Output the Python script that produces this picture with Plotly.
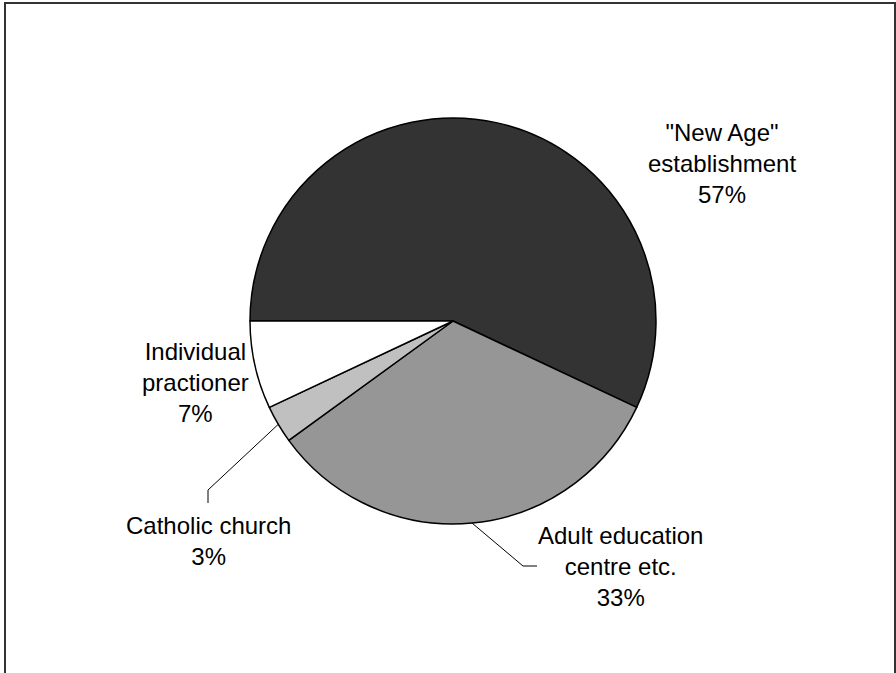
import math
import plotly.graph_objects as go

labels = ['"New Age"<br>establishment', 'Adult education<br>centre etc.', 'Catholic church', 'Individual<br>practioner']
values = [57, 33, 3, 7]
colors = ["#333333", "#969696", "#C0C0C0", "#FFFFFF"]

W, H = 896, 673
cx, cy, r = 453, 321, 203

fig = go.Figure(go.Pie(
    labels=labels, values=values, sort=False, direction="clockwise", rotation=270,
    marker=dict(colors=colors, line=dict(color="#000000", width=1.5)),
    textinfo="none", hoverinfo="label+percent", showlegend=False,
    domain=dict(x=[(cx - r) / W, (cx + r) / W], y=[1 - (cy + r) / H, 1 - (cy - r) / H]),
))

def px(x):
    return x / W

def py(y):
    return 1 - y / H

# label block centres (pixels)
label_pos = [(722, 163), (620, 566), (208, 541), (195, 382)]
total = sum(values)
cum = 0
annotations = []
shapes = []
for i, (lab, v) in enumerate(zip(labels, values)):
    pct = round(100 * v / total)
    lx, ly = label_pos[i]
    annotations.append(dict(x=px(lx), y=py(ly), xref="paper", yref="paper", text=f"{lab}<br>{pct}%",
                            showarrow=False, xanchor="center", yanchor="middle", align="center",
                            font=dict(family="Liberation Sans, Arial", size=24, color="#000000")))
    mid = (cum + v / 2) / total
    cum += v
    ang = math.radians(270 + 360 * mid)
    ex, ey = cx + r * math.sin(ang), cy - r * math.cos(ang)
    if i == 2:
        pts = [(ex, ey), (208, 490), (208, 503)]
    elif i == 1:
        pts = [(ex, ey), (523, 566), (537, 566)]
    else:
        pts = []
    for (x0, y0), (x1, y1) in zip(pts[:-1], pts[1:]):
        shapes.append(dict(type="line", xref="paper", yref="paper", x0=px(x0), y0=py(y0), x1=px(x1), y1=py(y1),
                           line=dict(color="#000000", width=1)))

shapes.append(dict(type="rect", xref="paper", yref="paper", x0=px(5), x1=px(895), y0=py(700), y1=py(3),
                   line=dict(color="#333333", width=2), fillcolor="rgba(0,0,0,0)"))

fig.update_layout(width=W, height=H, margin=dict(l=0, r=0, t=0, b=0), paper_bgcolor="#FFFFFF",
                  annotations=annotations, shapes=shapes)
fig.write_html("out.html")
